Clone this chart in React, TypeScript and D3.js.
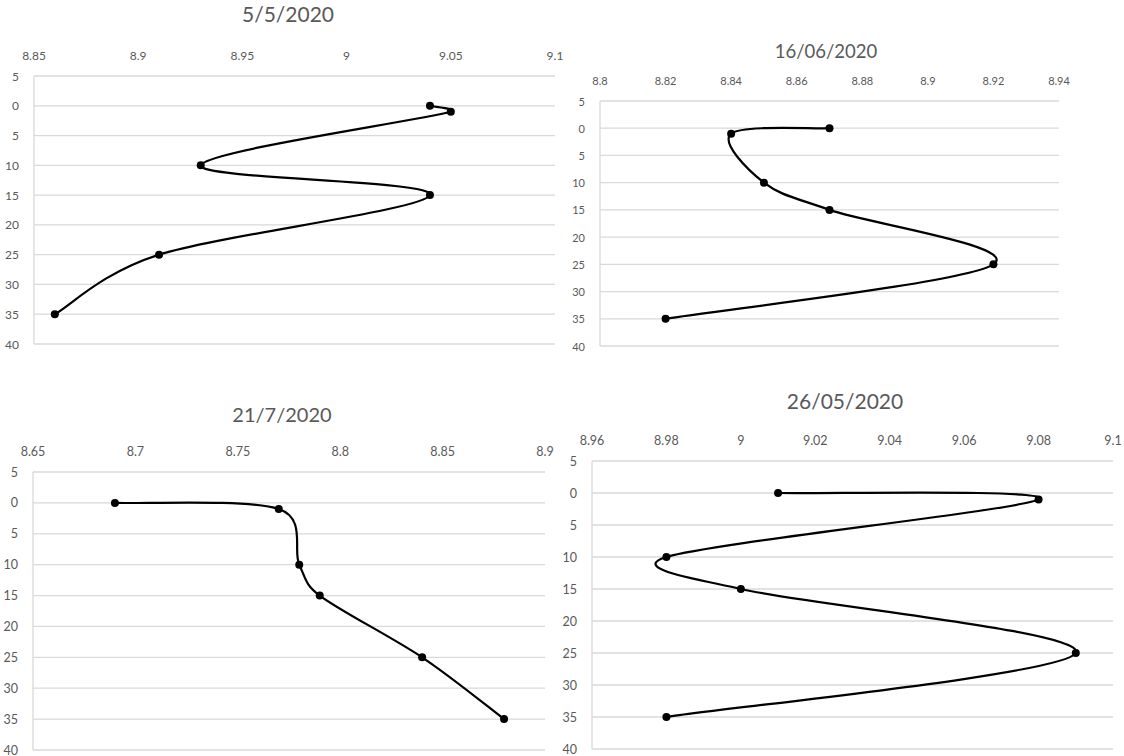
import React from 'react';
import * as d3 from 'd3';

// depth of each sample (m), shared by all four profiles
const depths = [0, 1, 10, 15, 25, 35];
const depthTicks = [-5, 0, 5, 10, 15, 20, 25, 30, 35, 40];

const may5Values = [9.04, 9.05, 8.93, 9.04, 8.91, 8.86];
const may5Ticks = [8.85, 8.9, 8.95, 9, 9.05, 9.1];

const jun16Values = [8.87, 8.84, 8.85, 8.87, 8.92, 8.82];
const jun16Ticks = [8.8, 8.82, 8.84, 8.86, 8.88, 8.9, 8.92, 8.94];

const jul21Values = [8.69, 8.77, 8.78, 8.79, 8.84, 8.88];
const jul21Ticks = [8.65, 8.7, 8.75, 8.8, 8.85, 8.9];

const may26Values = [9.01, 9.08, 8.98, 9.0, 9.09, 8.98];
const may26Ticks = [8.96, 8.98, 9, 9.02, 9.04, 9.06, 9.08, 9.1];

const FONT = 'Lato, "Open Sans", sans-serif';
const TEXT = '#595959';
const GRID = '#d9d9d9';

type Pt = [number, number];

// spreadsheet-style smoothed line: bezier through the points, handles capped at half the segment
function smoothPath(pts: Pt[]) {
  const path = d3.path();
  const dist = (a: Pt, b: Pt) => Math.hypot(b[0] - a[0], b[1] - a[1]);
  path.moveTo(pts[0][0], pts[0][1]);
  for (let i = 0; i < pts.length - 1; i++) {
    const p0 = pts[i - 1] || pts[i];
    const p1 = pts[i];
    const p2 = pts[i + 1];
    const p3 = pts[i + 2] || pts[i + 1];
    const d12 = dist(p1, p2), d02 = dist(p0, p2), d13 = dist(p1, p3);
    const f0 = d02 / 6 < d12 / 2 ? 1 / 6 : (d12 / 2) / d02;
    const f1 = d13 / 6 < d12 / 2 ? 1 / 6 : (d12 / 2) / d13;
    path.bezierCurveTo(
      p1[0] + (p2[0] - p0[0]) * f0, p1[1] + (p2[1] - p0[1]) * f0,
      p2[0] - (p3[0] - p1[0]) * f1, p2[1] - (p3[1] - p1[1]) * f1,
      p2[0], p2[1]
    );
  }
  return path.toString();
}

type PanelProps = {
  title: string;
  values: number[];
  xTicks: number[];
  left: number;
  right: number;
  top: number;
  bottom: number;
  titleX: number;
  titleY: number;
  titleSize: number;
  tickSize: number;
};

function Panel(p: PanelProps) {
  const x = d3.scaleLinear()
    .domain([p.xTicks[0], p.xTicks[p.xTicks.length - 1]])
    .range([p.left, p.right]);
  const y = d3.scaleLinear()
    .domain([depthTicks[0], depthTicks[depthTicks.length - 1]])
    .range([p.top, p.bottom]);

  const pts: Pt[] = depths.map((d, i) => [x(p.values[i]), y(d)]);

  return (
    <g>
      <text x={p.titleX} y={p.titleY} textAnchor="middle" dominantBaseline="central"
        fontSize={p.titleSize} fill={TEXT} fontFamily={FONT}>{p.title}</text>
      {depthTicks.map(t => (
        <g key={'y' + t}>
          <line x1={p.left} x2={p.right} y1={y(t)} y2={y(t)} stroke={GRID} strokeWidth={1.3} />
          <text x={p.left - 15} y={y(t)} textAnchor="end" dominantBaseline="central"
            fontSize={p.tickSize} fill={TEXT} fontFamily={FONT}>{Math.abs(t)}</text>
        </g>
      ))}
      <line x1={p.left} x2={p.left} y1={p.top} y2={p.bottom} stroke={GRID} strokeWidth={1.3} />
      {p.xTicks.map(t => (
        <text key={'x' + t} x={x(t)} y={p.top - 21} textAnchor="middle" dominantBaseline="central"
          fontSize={p.tickSize} fill={TEXT} fontFamily={FONT}>{String(t)}</text>
      ))}
      <path d={smoothPath(pts)} fill="none" stroke="#000" strokeWidth={2.2} />
      {pts.map((d, i) => (
        <circle key={'c' + i} cx={d[0]} cy={d[1]} r={4} fill="#000" />
      ))}
    </g>
  );
}

export default function App() {
  return (
    <svg width={1124} height={756} style={{ position: 'absolute', left: 0, top: 0, background: '#fff' }}>
      <rect width={1124} height={756} fill="#fff" />
      <Panel title="5/5/2020" values={may5Values} xTicks={may5Ticks}
        left={34} right={555} top={76} bottom={344}
        titleX={288} titleY={13} titleSize={21} tickSize={12} />
      <Panel title="16/06/2020" values={jun16Values} xTicks={jun16Ticks}
        left={600} right={1059} top={101} bottom={346}
        titleX={826} titleY={51} titleSize={18.5} tickSize={11} />
      <Panel title="21/7/2020" values={jul21Values} xTicks={jul21Ticks}
        left={33} right={545} top={472} bottom={750}
        titleX={282} titleY={414} titleSize={20} tickSize={12.5} />
      <Panel title="26/05/2020" values={may26Values} xTicks={may26Ticks}
        left={592} right={1113} top={461} bottom={749}
        titleX={845} titleY={400} titleSize={21} tickSize={12.5} />
    </svg>
  );
}
